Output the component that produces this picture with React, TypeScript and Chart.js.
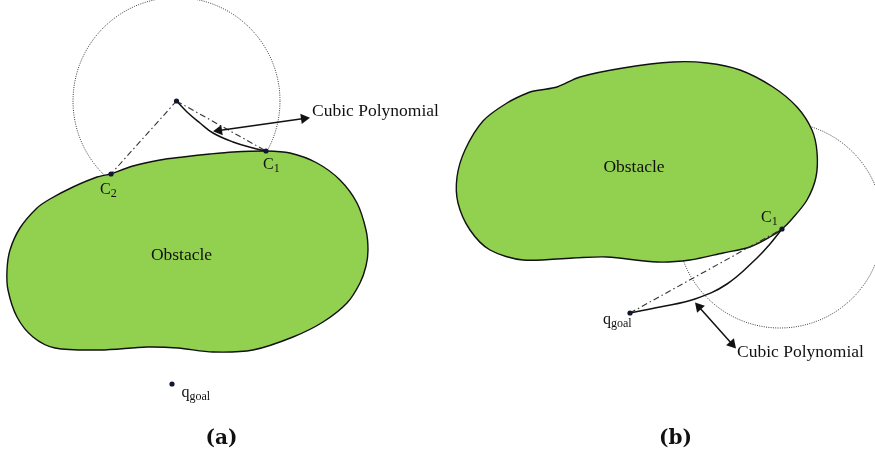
import React, { useEffect, useRef } from "react";
import { Chart, registerables } from "chart.js";

Chart.register(...registerables);

type P = { x: number; y: number };

// ---------- data (drawing units = pixels of the 875x455 frame) ----------
const obstacleA: P[] = [
  { x: 111, y: 174 }, { x: 133, y: 166 }, { x: 160, y: 160 }, { x: 183, y: 157 },
  { x: 210, y: 154 }, { x: 233, y: 152 }, { x: 266, y: 151 }, { x: 290, y: 153 },
  { x: 317, y: 163 }, { x: 340, y: 180 }, { x: 357, y: 203 }, { x: 366, y: 230 },
  { x: 368, y: 250 }, { x: 366, y: 266 }, { x: 360, y: 283 }, { x: 347, y: 303 },
  { x: 323, y: 322 }, { x: 293, y: 337 }, { x: 253, y: 350 }, { x: 213, y: 352 },
  { x: 178, y: 348 }, { x: 147, y: 347 }, { x: 100, y: 350 }, { x: 55, y: 348 },
  { x: 33, y: 337 }, { x: 17, y: 317 }, { x: 8, y: 290 }, { x: 7, y: 270 },
  { x: 10, y: 250 }, { x: 20, y: 228 }, { x: 37, y: 208 }, { x: 50, y: 199 },
  { x: 73, y: 187 }, { x: 97, y: 177 }, { x: 111, y: 174 },
];

const obstacleB: P[] = [
  { x: 540, y: 90 }, { x: 557, y: 87 }, { x: 580, y: 77 }, { x: 623, y: 68 },
  { x: 673, y: 62 }, { x: 707, y: 63 }, { x: 740, y: 70 }, { x: 773, y: 87 },
  { x: 797, y: 107 }, { x: 812, y: 130 }, { x: 817, y: 152 }, { x: 816, y: 177 },
  { x: 807, y: 200 }, { x: 792, y: 219 }, { x: 782, y: 229 }, { x: 770, y: 237 },
  { x: 750, y: 247 }, { x: 723, y: 253 }, { x: 690, y: 260 }, { x: 657, y: 262 },
  { x: 607, y: 257 }, { x: 573, y: 258 }, { x: 523, y: 260 }, { x: 490, y: 250 },
  { x: 470, y: 230 }, { x: 458, y: 203 }, { x: 457, y: 177 }, { x: 465, y: 150 },
  { x: 483, y: 121 }, { x: 507, y: 103 }, { x: 530, y: 92 }, { x: 540, y: 90 },
];

// circles: [centerX, centerY, radius]
const circleA = [176.5, 101, 103.5];
const circleB = [780, 225, 103];

const cubicA: P[] = [
  { x: 176.5, y: 101 }, { x: 187, y: 112 }, { x: 200, y: 123 }, { x: 213, y: 133 },
  { x: 233, y: 142 }, { x: 253, y: 148 }, { x: 266, y: 151 },
];
const cubicB: P[] = [
  { x: 630, y: 313 }, { x: 660, y: 307 }, { x: 695, y: 299 }, { x: 727, y: 284 },
  { x: 757, y: 258 }, { x: 770, y: 244 }, { x: 782, y: 229 },
];

const chordsA: P[][] = [
  [{ x: 176.5, y: 101 }, { x: 266, y: 151 }],
  [{ x: 176.5, y: 101 }, { x: 111, y: 174 }],
];
const chordsB: P[][] = [[{ x: 630, y: 313 }, { x: 782, y: 229 }]];

const arrowA: P[] = [{ x: 219, y: 130.5 }, { x: 304, y: 118.5 }];
const arrowB: P[] = [{ x: 699, y: 307 }, { x: 732, y: 344 }];

const dots: P[] = [
  { x: 176.5, y: 101 }, { x: 266, y: 151 }, { x: 111, y: 174 }, { x: 172, y: 384 },
  { x: 782, y: 229 }, { x: 630, y: 313 },
];

// labels
const labelTexts = ["Cubic Polynomial", "Cubic Polynomial", "Obstacle", "Obstacle", "C", "C", "C", "q", "q", "(a)", "(b)"];
const labelSubs = ["", "", "", "", "1", "2", "1", "goal", "goal", "", ""];
const labelX = [312, 737, 181.5, 634, 263, 100, 761, 181.5, 603, 221.5, 675.5];
const labelY = [116, 357, 259.5, 172, 169, 193.5, 221.5, 396.5, 324, 444, 444];
const labelAlign = ["left", "left", "center", "center", "left", "left", "left", "left", "left", "center", "center"];
const labelSize = [17.5, 17.5, 17.5, 17.5, 16, 16, 16, 16, 16, 20, 20];
const labelBold = [false, false, false, false, false, false, false, false, false, true, true];

// ---------- helpers ----------
function circlePoints(c: number[]): P[] {
  const pts: P[] = [];
  const n = 180;
  for (let i = 0; i <= n; i++) {
    const t = (i / n) * Math.PI * 2;
    pts.push({ x: c[0] + c[2] * Math.cos(t), y: c[1] + c[2] * Math.sin(t) });
  }
  return pts;
}

function arrowRot(a: P[]): number[] {
  const dx = a[1].x - a[0].x;
  const dy = a[1].y - a[0].y;
  const ang = (Math.atan2(dy, dx) * 180) / Math.PI;
  return [ang - 90, ang + 90];
}

const labelPlugin = {
  id: "labels",
  afterDatasetsDraw(chart: any) {
    const ctx = chart.ctx as CanvasRenderingContext2D;
    const xs = chart.scales.x;
    const ys = chart.scales.y;
    ctx.save();
    ctx.fillStyle = "#111";
    ctx.textBaseline = "alphabetic";
    for (let i = 0; i < labelTexts.length; i++) {
      const px = xs.getPixelForValue(labelX[i]);
      const py = ys.getPixelForValue(labelY[i]);
      const size = labelSize[i];
      const fam = labelBold[i] ? '"DejaVu Serif", serif' : '"Liberation Serif", "Times New Roman", serif';
      ctx.font = `${labelBold[i] ? "bold " : ""}${size}px ${fam}`;
      ctx.textAlign = labelAlign[i] as CanvasTextAlign;
      ctx.fillText(labelTexts[i], px, py);
      if (labelSubs[i]) {
        const w = ctx.measureText(labelTexts[i]).width;
        ctx.font = `${Math.round(size * 0.72)}px ${fam}`;
        ctx.textAlign = "left";
        ctx.fillText(labelSubs[i], px + w, py + 3);
      }
    }
    ctx.restore();
  },
};

export default function App() {
  const ref = useRef<HTMLCanvasElement | null>(null);
  useEffect(() => {
    if (!ref.current) return;
    const black = "#111";
    const lineDs = (data: P[], extra: any) => ({
      data,
      showLine: true,
      pointRadius: 0,
      pointHoverRadius: 0,
      borderColor: black,
      borderWidth: 1.3,
      fill: false,
      clip: false,
      ...extra,
    });
    const arrowDs = (a: P[]) =>
      lineDs(a, {
        borderWidth: 1.5,
        pointRadius: 6,
        pointStyle: "triangle",
        pointRotation: arrowRot(a),
        pointBackgroundColor: black,
        pointBorderColor: black,
        pointBorderWidth: 0,
        order: 4,
      });
    const datasets: any[] = [
      lineDs(circlePoints(circleA), { borderColor: "#3a3a3a", borderWidth: 1, borderDash: [1, 1.3], order: 10 }),
      lineDs(circlePoints(circleB), { borderColor: "#3a3a3a", borderWidth: 1, borderDash: [1, 1.3], order: 10 }),
      lineDs(obstacleA, { backgroundColor: "#92D050", fill: "shape", tension: 0.3, borderWidth: 1.4, order: 8 }),
      lineDs(obstacleB, { backgroundColor: "#92D050", fill: "shape", tension: 0.3, borderWidth: 1.4, order: 8 }),
      ...chordsA.concat(chordsB).map((c) =>
        lineDs(c, { borderColor: "#333", borderWidth: 1.1, borderDash: [6, 3, 1.5, 3], order: 6 })
      ),
      lineDs(cubicA, { tension: 0.4, borderWidth: 1.5, order: 5 }),
      lineDs(cubicB, { tension: 0.4, borderWidth: 1.5, order: 5 }),
      arrowDs(arrowA),
      arrowDs(arrowB),
      {
        data: dots,
        showLine: false,
        pointRadius: 2.6,
        pointBackgroundColor: "#101830",
        pointBorderColor: "#101830",
        pointBorderWidth: 0,
        clip: false,
        order: 1,
      },
    ];
    const chart = new Chart(ref.current, {
      type: "scatter",
      data: { datasets },
      options: {
        animation: false,
        responsive: false,
        maintainAspectRatio: false,
        events: [],
        layout: { padding: 0, autoPadding: false },
        plugins: { legend: { display: false }, tooltip: { enabled: false } },
        scales: {
          x: { type: "linear", min: 0, max: 875, display: false, offset: false },
          y: { type: "linear", min: 0, max: 455, reverse: true, display: false, offset: false },
        },
      },
      plugins: [labelPlugin],
    } as any);
    return () => chart.destroy();
  }, []);
  return (
    <div style={{ position: "absolute", left: 0, top: 0, width: 875, height: 455, background: "#fff" }}>
      <canvas ref={ref} width={875} height={455} style={{ display: "block" }} />
    </div>
  );
}
